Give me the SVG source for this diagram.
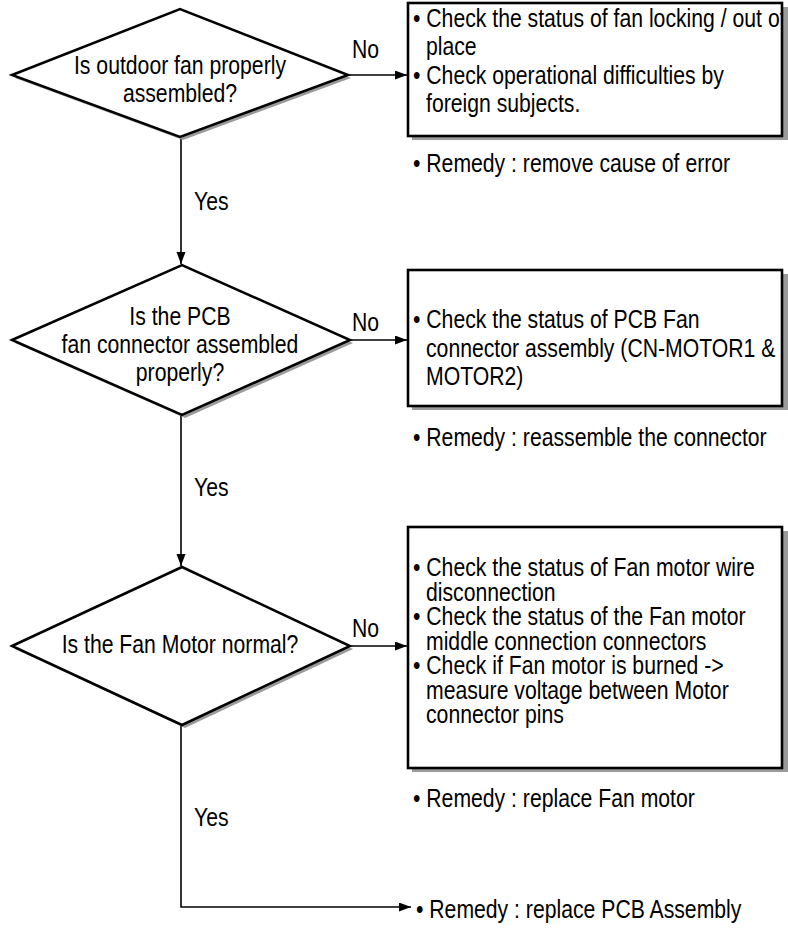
<svg xmlns="http://www.w3.org/2000/svg" width="788" height="938" viewBox="0 0 788 938">
<style>
.t{font-family:"Liberation Sans",Arial,sans-serif;font-size:26.5px;fill:#000}
.m{text-anchor:middle}
.d{fill:#fff;stroke:#000;stroke-width:2.5;stroke-linejoin:miter}
.b{fill:#fff;stroke:#000;stroke-width:2.6}
.sh{fill:#9a9a9a}
.c{fill:none;stroke:#000;stroke-width:1.6}
</style>
<defs>
<marker id="ah" markerUnits="userSpaceOnUse" markerWidth="13" markerHeight="10" refX="12" refY="4.5" orient="auto">
<path d="M0,0 L12,4.5 L0,9 Z" fill="#000"/>
</marker>
<clipPath id="clip1"><rect x="409" y="4" width="372" height="130"/></clipPath>
</defs>

<g id="connectors">
<line class="c" x1="348" y1="75" x2="407" y2="75" marker-end="url(#ah)"/>
<line class="c" x1="181" y1="137" x2="181" y2="264" marker-end="url(#ah)"/>
<line class="c" x1="350" y1="340" x2="407" y2="340" marker-end="url(#ah)"/>
<line class="c" x1="181" y1="415" x2="181" y2="566" marker-end="url(#ah)"/>
<line class="c" x1="350" y1="646" x2="407" y2="646" marker-end="url(#ah)"/>
<polyline class="c" points="181,725 181,907 411,907" marker-end="url(#ah)"/>
<text class="t" transform="translate(352 58) scale(.8 1)">No</text>
<text class="t" transform="translate(352 331) scale(.8 1)">No</text>
<text class="t" transform="translate(352 637) scale(.8 1)">No</text>
<text class="t" transform="translate(194 210) scale(.8 1)">Yes</text>
<text class="t" transform="translate(194 496) scale(.8 1)">Yes</text>
<text class="t" transform="translate(194 826) scale(.8 1)">Yes</text>
</g>

<g id="decision1">
<polygon class="sh" points="15,78 183,12 351,78 183,140"/>
<polygon class="d" points="12,75 180,9 348,75 180,137"/>
<text class="t m" transform="translate(180 74) scale(.8 1)">Is outdoor fan properly</text>
<text class="t m" transform="translate(180 102) scale(.8 1)">assembled?</text>
</g>

<g id="action1">
<rect class="sh" x="412" y="7" width="376" height="133"/>
<rect class="b" x="408" y="3" width="374" height="133"/>
<g clip-path="url(#clip1)">
<text class="t" transform="translate(413 27) scale(.8 1)">• Check the status of fan locking / out of</text>
<text class="t" transform="translate(426 55) scale(.8 1)">place</text>
<text class="t" transform="translate(413 84) scale(.8 1)">• Check operational difficulties by</text>
<text class="t" transform="translate(426 112) scale(.8 1)">foreign subjects.</text>
</g>
</g>
<text id="remedy1" class="t" transform="translate(413 172) scale(.8 1)">• Remedy : remove cause of error</text>

<g id="decision2">
<polygon class="sh" points="15,343 185,268 353,343 185,418"/>
<polygon class="d" points="12,340 182,265 350,340 182,415"/>
<text class="t m" transform="translate(180 325) scale(.8 1)">Is the PCB</text>
<text class="t m" transform="translate(180 353) scale(.8 1)">fan connector assembled</text>
<text class="t m" transform="translate(180 381) scale(.8 1)">properly?</text>
</g>

<g id="action2">
<rect class="sh" x="412" y="274" width="376" height="136"/>
<rect class="b" x="408" y="270" width="374" height="136"/>
<text class="t" transform="translate(413 328) scale(.8 1)">• Check the status of PCB Fan</text>
<text class="t" transform="translate(426 357) scale(.8 1)">connector assembly (CN-MOTOR1 &amp;</text>
<text class="t" transform="translate(426 385) scale(.8 1)">MOTOR2)</text>
</g>
<text id="remedy2" class="t" transform="translate(413 446) scale(.8 1)">• Remedy : reassemble the connector</text>

<g id="decision3">
<polygon class="sh" points="15,649 185,570 353,649 185,728"/>
<polygon class="d" points="12,646 182,567 350,646 182,725"/>
<text class="t m" transform="translate(180 653) scale(.8 1)">Is the Fan Motor normal?</text>
</g>

<g id="action3">
<rect class="sh" x="412" y="531" width="376" height="241"/>
<rect class="b" x="408" y="527" width="374" height="241"/>
<text class="t" transform="translate(413 576) scale(.8 1)">• Check the status of Fan motor wire</text>
<text class="t" transform="translate(426 601) scale(.8 1)">disconnection</text>
<text class="t" transform="translate(413 625) scale(.8 1)">• Check the status of the Fan motor</text>
<text class="t" transform="translate(426 650) scale(.8 1)">middle connection connectors</text>
<text class="t" transform="translate(413 674) scale(.8 1)">• Check if Fan motor is burned -&gt;</text>
<text class="t" transform="translate(426 699) scale(.8 1)">measure voltage between Motor</text>
<text class="t" transform="translate(426 723) scale(.8 1)">connector pins</text>
</g>
<text id="remedy3" class="t" transform="translate(413 807) scale(.8 1)">• Remedy : replace Fan motor</text>

<text id="remedy4" class="t" transform="translate(416 918) scale(.8 1)">• Remedy : replace PCB Assembly</text>
</svg>
